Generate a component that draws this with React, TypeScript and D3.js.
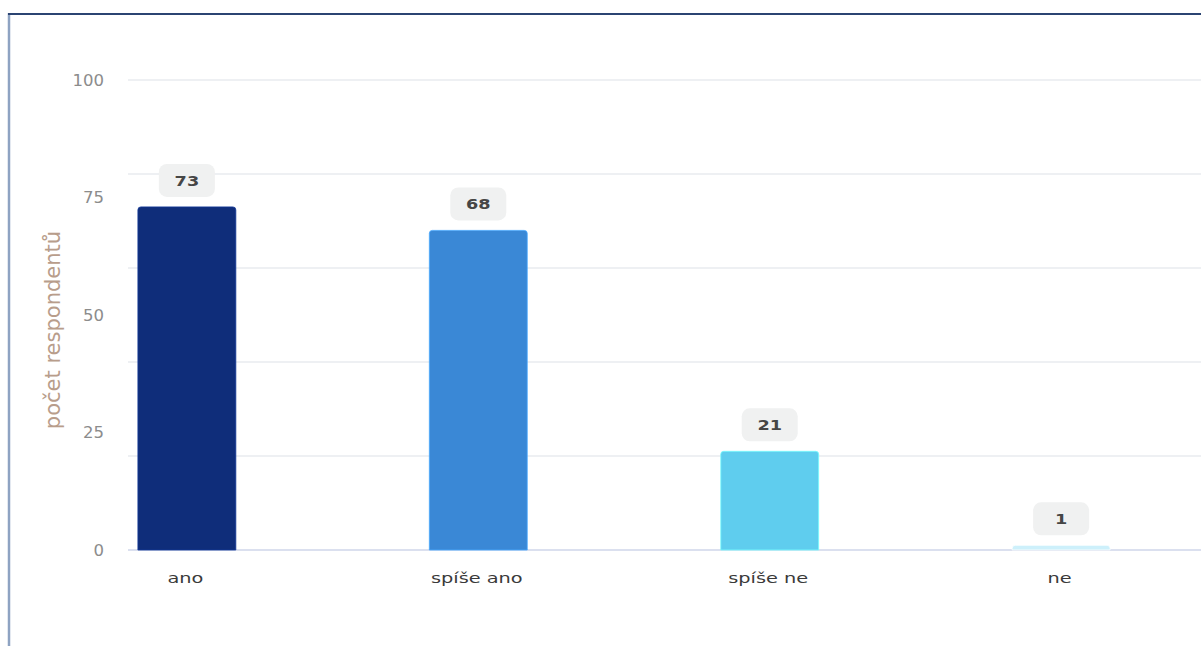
import React from "react";
import * as d3 from "d3";

const categories = ["ano", "spíše ano", "spíše ne", "ne"];
const values = [73, 68, 21, 1];
const colors = ["#0f2d7a", "#3a88d6", "#5fcdee", "#cdf0fb"];
const yTicks = [0, 25, 50, 75, 100];
const gridTicks = [0, 20, 40, 60, 80, 100];
const yTitle = "počet respondentů";

const W = 1201;
const H = 646;

export default function App() {
  const y = d3.scaleLinear().domain([0, 100]).range([550, 80]);
  const x = d3
    .scaleBand<string>()
    .domain(categories)
    .range([128, 1120])
    .paddingInner(0.664)
    .paddingOuter(0.034);
  const bw = x.bandwidth();
  const font = "'DejaVu Sans', Verdana, sans-serif";

  const barPath = (x0: number, y0: number, w: number, h: number, r: number) => {
    const rr = Math.min(r, h, w / 2);
    const p = d3.path();
    p.moveTo(x0, y0 + h);
    p.lineTo(x0, y0 + rr);
    p.quadraticCurveTo(x0, y0, x0 + rr, y0);
    p.lineTo(x0 + w - rr, y0);
    p.quadraticCurveTo(x0 + w, y0, x0 + w, y0 + rr);
    p.lineTo(x0 + w, y0 + h);
    p.closePath();
    return p.toString();
  };

  return (
    <svg
      width={W}
      height={H}
      style={{ position: "absolute", left: 0, top: 0, background: "#fff" }}
      fontFamily={font}
    >
      <rect x={0} y={0} width={W} height={H} fill="#fff" />
      {/* frame */}
      <line x1={9} x2={9} y1={13} y2={H} stroke="#8ea3c2" strokeWidth={2.5} />
      <line x1={8} x2={W} y1={14} y2={14} stroke="#2b4472" strokeWidth={2} />

      {/* gridlines */}
      {gridTicks.map((t) => (
        <line
          key={"g" + t}
          x1={128}
          x2={W}
          y1={y(t)}
          y2={y(t)}
          stroke={t === 0 ? "#cfd6ea" : "#e8ebef"}
          strokeWidth={1.5}
        />
      ))}

      {/* y tick labels */}
      {yTicks.map((t) => (
        <text
          key={"t" + t}
          x={104}
          y={y(t)}
          dy="0.36em"
          textAnchor="end"
          fontSize={16.5}
          fill="#8c8c8c"
        >
          {t}
        </text>
      ))}

      {/* y title */}
      <text
        transform={`translate(60,${y(46.8)}) rotate(-90)`}
        textAnchor="middle"
        fontSize={21}
        fill="#b89d8b"
      >
        {yTitle}
      </text>

      {/* bars */}
      {categories.map((c, i) => {
        const bx = x(c)!;
        const top = y(values[i]);
        const h = y(0) - top;
        const cx = bx + bw / 2;
        return (
          <g key={c}>
            <path
              d={barPath(bx, top, bw, h, 3)}
              fill={colors[i]}
              stroke={d3.color(colors[i])!.brighter(0.6).toString()}
              strokeWidth={0.8}
            />
            <rect
              x={cx - 28}
              y={top - 10 - 33}
              width={56}
              height={33}
              rx={8}
              fill="#f0f1f1"
            />
            <text
              transform={`translate(${cx},${top - 10 - 16.5}) scale(1.22,1)`}
              dy="0.36em"
              textAnchor="middle"
              fontSize={14.5}
              fontWeight={700}
              fill="#464646"
            >
              {values[i]}
            </text>
            <text
              transform={`translate(${cx - 1.5},578) scale(1.38,1)`}
              dy="0.36em"
              textAnchor="middle"
              fontSize={14}
              fill="#3a3a3a"
            >
              {c}
            </text>
          </g>
        );
      })}
    </svg>
  );
}
